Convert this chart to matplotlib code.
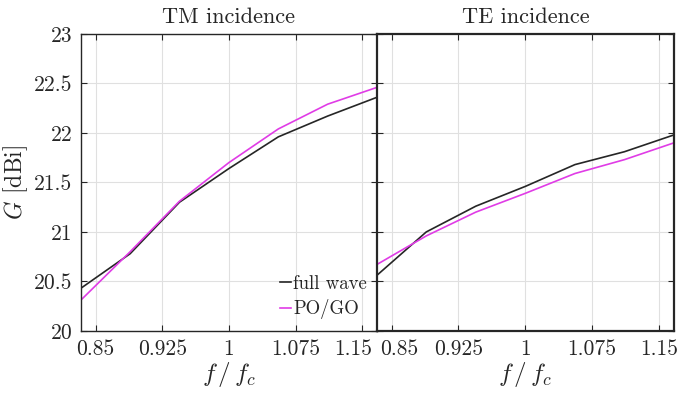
import numpy as np
import matplotlib
matplotlib.use("Agg")
import matplotlib.pyplot as plt
import matplotlib.transforms as mtransforms

plt.rcParams["font.family"] = "serif"
plt.rcParams["font.serif"] = ["cmr10"]
plt.rcParams["mathtext.fontset"] = "cm"
plt.rcParams["axes.formatter.use_mathtext"] = True

# -----------------------------
# Data
# -----------------------------
f_norm = [0.8333, 0.8889, 0.9444, 1.0, 1.0556, 1.1111, 1.1667]

tm_full = [20.43, 20.78, 21.30, 21.64, 21.96, 22.17, 22.36]
tm_pogo = [20.31, 20.80, 21.31, 21.70, 22.04, 22.29, 22.46]

te_full = [20.56, 21.00, 21.26, 21.46, 21.68, 21.81, 21.98]
te_pogo = [20.67, 20.96, 21.20, 21.39, 21.59, 21.73, 21.90]

xticks = [0.85, 0.925, 1, 1.075, 1.15]
xtick_labels = ["0.85", "0.925", "1", "1.075", "1.15"]
yticks = [20, 20.5, 21, 21.5, 22, 22.5, 23]
ytick_labels = ["20", "20.5", "21", "21.5", "22", "22.5", "23"]

BLACK = "#262626"
PINK = "#e03ce6"


def style_axes(ax, lw):
    ax.set_xlim(0.8333, 1.1667)
    ax.set_ylim(20, 23)
    ax.set_xticks(xticks)
    ax.set_xticklabels(xtick_labels)
    ax.set_yticks(yticks)
    ax.grid(True, color="#e0e0e0", linewidth=0.8)
    ax.set_axisbelow(True)
    ax.tick_params(direction="in", top=True, right=True, length=4,
                   width=0.8, colors=BLACK, labelsize=15.5, pad=6)
    for s in ax.spines.values():
        s.set_linewidth(lw)
        s.set_color(BLACK)
    ax.set_xlabel("$f\\,/\\,f_c$", fontsize=18, color=BLACK, labelpad=1)


def nudge(label, dx_px):
    off = mtransforms.ScaledTranslation(dx_px / 100.0, 0, fig.dpi_scale_trans)
    label.set_transform(label.get_transform() + off)


fig = plt.figure(figsize=(6.94, 3.94), dpi=100)
ax1 = fig.add_axes([0.1163, 0.16, 0.427, 0.754])
ax2 = fig.add_axes([0.5428, 0.16, 0.4284, 0.754])

# TM
ax1.plot(f_norm, tm_full, color=BLACK, lw=1.2, label="full wave")
ax1.plot(f_norm, tm_pogo, color=PINK, lw=1.2, label="PO/GO")
style_axes(ax1, 1.0)
ax1.set_yticklabels(ytick_labels)
ax1.set_ylabel("$G$ [dBi]", fontsize=17, color=BLACK, labelpad=3)
ax1.set_title("TM incidence", fontsize=16, color=BLACK, pad=8)
leg = ax1.legend(loc="lower right", bbox_to_anchor=(1.01, -0.005), frameon=False,
                 fontsize=13.5, handlelength=0.6, handletextpad=0.1,
                 labelspacing=0.35, borderpad=0.2)
for t in leg.get_texts():
    t.set_color(BLACK)

# TE
ax2.plot(f_norm, te_full, color=BLACK, lw=1.2)
ax2.plot(f_norm, te_pogo, color=PINK, lw=1.2)
style_axes(ax2, 1.6)
ax2.set_yticklabels([])
ax2.set_title("TE incidence", fontsize=16, color=BLACK, pad=8)

# keep the edge labels of the two panels apart, as in the original
nudge(ax1.get_xticklabels()[-1], -9)
nudge(ax2.get_xticklabels()[0], 8)

fig.savefig("out.png", dpi=100)
